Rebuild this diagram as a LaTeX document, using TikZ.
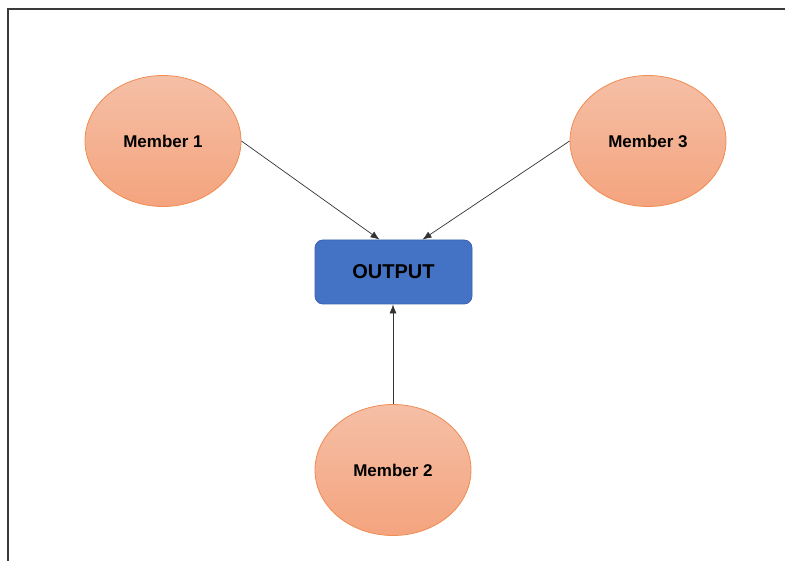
\documentclass[tikz,border=0pt]{standalone}
\usepackage{fontspec}
\setmainfont{Liberation Sans}
\usetikzlibrary{shapes.geometric,arrows.meta}
\definecolor{memtop}{HTML}{F5BFA6}
\definecolor{membot}{HTML}{F4A47E}
\definecolor{memedge}{HTML}{F08C52}
\definecolor{outfill}{HTML}{4472C4}
\definecolor{outedge}{HTML}{3A62AE}
\definecolor{framecol}{HTML}{3A3A3A}
\tikzset{
  member/.style={ellipse, draw=memedge, line width=0.8pt, top color=memtop, bottom color=membot,
    minimum width=156pt, minimum height=131pt, inner sep=0pt,
    font=\fontsize{17}{20}\selectfont\bfseries},
  outbox/.style={rectangle, rounded corners=8pt, draw=outedge, line width=0.8pt, fill=outfill,
    minimum width=157pt, minimum height=64pt, inner sep=0pt,
    font=\fontsize{20}{24}\selectfont\bfseries},
  link/.style={-{Latex[length=9pt,width=7pt]}, line width=0.7pt, draw=black!80},
  frameline/.style={draw=framecol, line width=1.6pt}
}
\begin{document}
\begin{tikzpicture}[x=1pt,y=-1pt]
  \useasboundingbox (0,0) rectangle (785,561);
  % outer frame (right and lower sides run past the page)
  \coordinate (fA) at (8,570);
  \coordinate (fB) at (8,9);
  \coordinate (fC) at (790,9);
  \draw[frameline] (fA) -- (fB) -- (fC);

  \node[outbox] (out) at (393.5,272) {OUTPUT};
  \node[member] (m1) at (163,141) {Member 1};
  \node[member] (m3) at (648,141) {Member 3};
  \node[member] (m2) at (393,470) {Member 2};

  \draw[link] (m1.east) -- ([xshift=-14pt]out.north);
  \draw[link] (m3.west) -- ([xshift=29pt]out.north);
  \draw[link] (m2.north) -- (out.south -| m2.north);
\end{tikzpicture}
\end{document}
